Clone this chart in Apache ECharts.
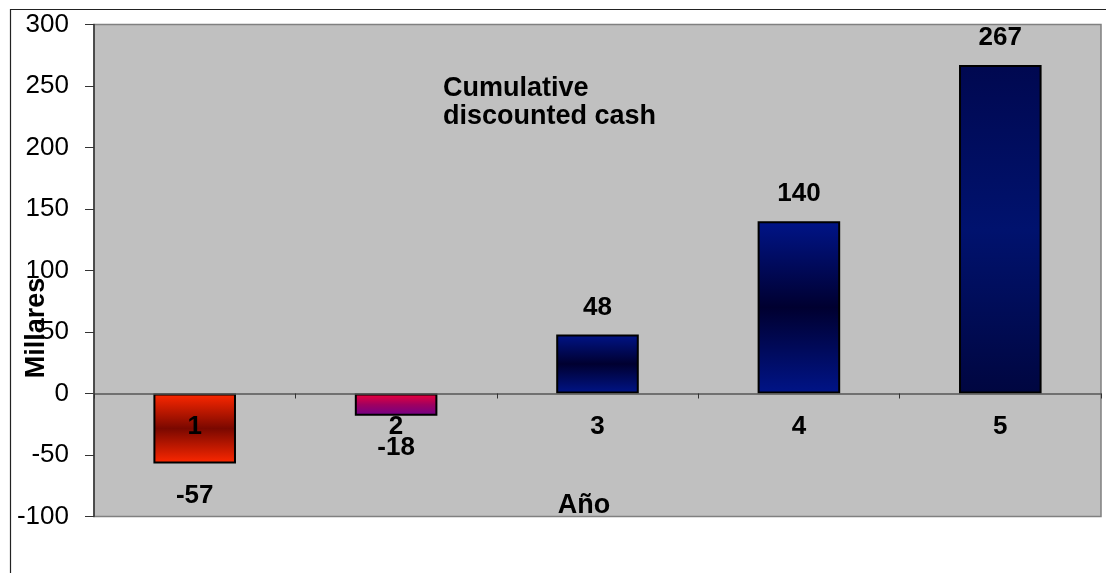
<!DOCTYPE html>
<html>
<head>
<meta charset="utf-8">
<script src="https://cdn.jsdelivr.net/npm/echarts@6/dist/echarts.min.js"></script>
<style>
html,body{margin:0;padding:0;background:#fff;}
#c{width:1106px;height:573px;}
</style>
</head>
<body>
<div id="c"></div>
<script>
const categories = ['1', '2', '3', '4', '5'];
const values = [-57, -18, 48, 140, 267];
const yTicks = { min: -100, max: 300, interval: 50 };
const yAxisTitle = 'Millares';
const xAxisTitle = 'Año';
const noteText = 'Cumulative\ndiscounted cash';

// gradient stops per bar: [top colour, centre colour, bottom colour]
const barGradients = [
  ['#ff2800', '#7a0800', '#ff2800'],
  ['#f00038', '#a00060', '#700088'],
  ['#001488', '#000030', '#001488'],
  ['#001488', '#000030', '#001488'],
  ['#000850', '#00126e', '#000640']
];

const FONT = 'Liberation Sans, Arial, sans-serif';

const chart = echarts.init(document.getElementById('c'));

const seriesData = values.map((v, i) => {
  const g = barGradients[i];
  return {
    value: v,
    itemStyle: {
      color: new echarts.graphic.LinearGradient(0, 0, 0, 1, [
        { offset: 0, color: g[0] },
        { offset: 0.5, color: g[1] },
        { offset: 1, color: g[2] }
      ])
    },
    label: v < 0 ? { position: 'bottom', distance: 19 } : { position: 'top', distance: 14 }
  };
});

// category labels sit on the zero line (axis crosses at 0)
const catLabelData = categories.map(c => [c, 0]);

chart.setOption({
  animation: false,
  backgroundColor: '#ffffff',
  grid: {
    left: 94, right: 5, top: 24.5, bottom: 56.5,
    show: true, backgroundColor: '#c0c0c0', borderColor: '#808080', borderWidth: 1.5
  },
  xAxis: {
    type: 'category',
    data: categories,
    z: 5,
    axisLine: { onZero: true, lineStyle: { color: '#555555', width: 1.5 } },
    axisTick: { show: true, length: 5, lineStyle: { color: '#333333' } },
    axisLabel: { show: false }
  },
  yAxis: {
    type: 'value',
    min: yTicks.min, max: yTicks.max, interval: yTicks.interval,
    splitLine: { show: false },
    axisLine: { show: true, lineStyle: { color: '#333333', width: 1.5 } },
    axisTick: { show: true, length: 9, lineStyle: { color: '#333333' } },
    axisLabel: { color: '#000', fontFamily: FONT, fontSize: 26, margin: 25 }
  },
  series: [
    {
      type: 'bar',
      data: seriesData,
      barWidth: '41%',
      itemStyle: { borderColor: '#000', borderWidth: 2 },
      label: {
        show: true, color: '#000', fontFamily: FONT, fontWeight: 'bold', fontSize: 26
      }
    },
    {
      type: 'scatter',
      data: catLabelData,
      symbolSize: 0,
      silent: true,
      z: 10,
      itemStyle: { opacity: 1 },
      label: {
        show: true, position: 'bottom', distance: 20, opacity: 1,
        formatter: p => p.data[0],
        color: '#000', fontFamily: FONT, fontWeight: 'bold', fontSize: 26
      }
    }
  ],
  graphic: [
    {
      type: 'polyline', z: 100, silent: true,
      shape: { points: [[10.5, 573], [10.5, 9.5], [1106, 9.5]] },
      style: { stroke: '#222', lineWidth: 1.2, fill: null }
    },
    {
      type: 'text', z: 100, left: 443, top: 75,
      style: { text: noteText, font: 'bold 27px ' + FONT, fill: '#000', lineHeight: 28 }
    },
    {
      type: 'text', z: 100, x: 584, y: 506,
      style: { text: xAxisTitle, font: 'bold 27px ' + FONT, fill: '#000', align: 'center', verticalAlign: 'middle' }
    },
    {
      type: 'text', z: 100, x: 37, y: 328, rotation: Math.PI / 2,
      style: { text: yAxisTitle, font: 'bold 27px ' + FONT, fill: '#000', align: 'center', verticalAlign: 'middle' }
    }
  ]
});
</script>
</body>
</html>
